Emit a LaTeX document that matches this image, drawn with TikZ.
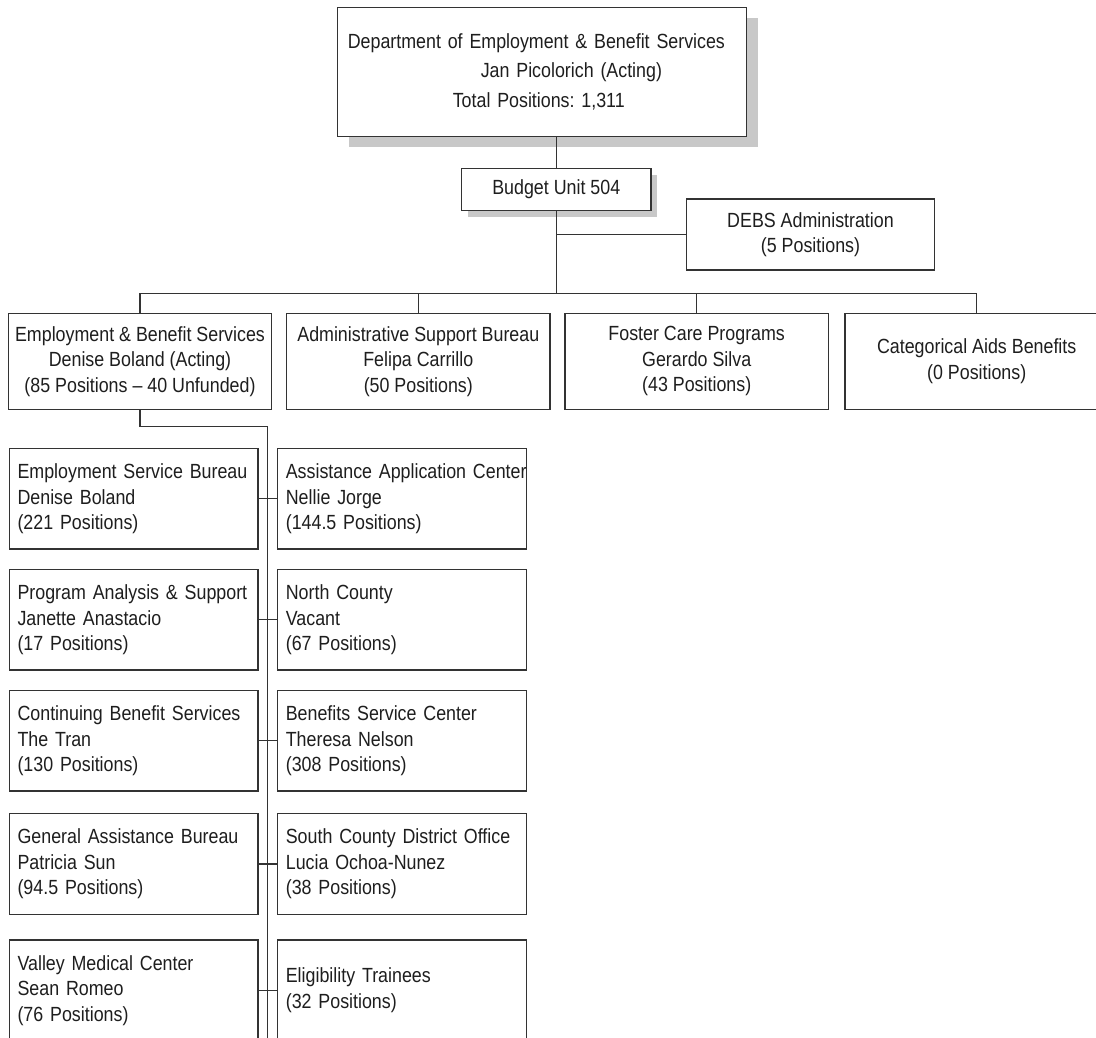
\documentclass[tikz,border=0pt]{standalone}
\usepackage{fontspec}
\setmainfont{Liberation Sans}[FakeStretch=0.87]
\usetikzlibrary{shadows}
\definecolor{DebsLine}{RGB}{51,51,51}
\definecolor{DebsText}{RGB}{30,30,30}
\definecolor{DebsShadow}{RGB}{200,200,200}
\tikzset{
  debs/box/.style={
    draw=DebsLine,
    line width=1.2pt,
    fill=white,
    text=DebsText,
    inner ysep=2pt,
    font=\fontsize{20.5}{25.5}\selectfont\frenchspacing
  },
  debs/head/.style={
    debs/box,
    general shadow={fill=DebsShadow, shadow xshift=#1pt, shadow yshift=-#1pt}
  },
  debs/unit/.style={
    debs/box,
    align=center,
    minimum width=263.3pt,
    minimum height=96pt
  },
  debs/office/.style={
    debs/box,
    align=left,
    text width=232.5pt,
    inner xsep=8pt,
    minimum height=100.5pt
  },
  debs/link/.style={draw=DebsLine, line width=1.2pt}
}

\begin{document}
\begin{tikzpicture}[x=1pt,y=-1pt]
  \path[use as bounding box, fill=white] (0,0) rectangle (1096,1038);
  \clip (0,0) rectangle (1096,1038);

  % department head and budget unit
  \node[debs/head=11, align=left, text width=389pt, inner xsep=10pt, minimum height=129pt,
        font=\fontsize{20.5}{29.5}\selectfont\frenchspacing] (dept) at (542.3,71.8)
    {Department of Employment \& Benefit Services\\
     \hspace*{133pt}Jan Picolorich (Acting)\\
     \hspace*{105pt}Total Positions: 1,311};
  \node[debs/head=6.5, minimum width=189.3pt, minimum height=42pt] (budget) at (556.3,189.3) {Budget Unit 504};
  \node[debs/box, align=center, minimum width=247.6pt, minimum height=71pt] (debs) at (810.5,234.5)
    {DEBS Administration\\(5 Positions)};

  % first level
  \node[debs/unit] (ebs) at (140,361.4) {Employment \& Benefit Services\\Denise Boland (Acting)\\(85 Positions -- 40 Unfunded)};
  \node[debs/unit] (asb) at (418.3,361.4) {Administrative Support Bureau\\Felipa Carrillo\\(50 Positions)};
  \node[debs/unit] (fcp) at (696.7,361.4) {Foster Care Programs\\Gerardo Silva\\(43 Positions)};
  \node[debs/unit] (cab) at (976.7,361.4) {Categorical Aids Benefits\\(0 Positions)};

  % bureaus and offices
  \node[debs/office] (esb) at (133.8,498.7) {Employment Service Bureau\\Denise Boland\\(221 Positions)};
  \node[debs/office] (pas) at (133.8,619.7) {\mbox{Program Analysis \& Support}\\Janette Anastacio\\(17 Positions)};
  \node[debs/office] (cbs) at (133.8,740.8) {Continuing Benefit Services\\The Tran\\(130 Positions)};
  \node[debs/office] (gab) at (133.8,864) {General Assistance Bureau\\Patricia Sun\\(94.5 Positions)};
  \node[debs/office] (vmc) at (133.8,990.3) {Valley Medical Center\\Sean Romeo\\(76 Positions)};

  \node[debs/office] (aac) at (402.1,498.7) {\mbox{Assistance Application Center}\\Nellie Jorge\\(144.5 Positions)};
  \node[debs/office] (nco) at (402.1,619.7) {North County\\Vacant\\(67 Positions)};
  \node[debs/office] (bsc) at (402.1,740.8) {Benefits Service Center\\Theresa Nelson\\(308 Positions)};
  \node[debs/office] (scd) at (402.1,864) {South County District Office\\Lucia Ochoa-Nunez\\(38 Positions)};
  \node[debs/office] (elt) at (402.1,990.3) {Eligibility Trainees\\(32 Positions)};

  \coordinate (bus) at (556.3,293.3);
  \coordinate (spine) at (267.7,1045);

  % connectors
  \draw[debs/link] (budget.north) -- (budget.north |- dept.south);
  \draw[debs/link] (budget.south) -- (budget.south |- bus);
  \draw[debs/link] (debs.west) -- (debs.west -| budget.south);
  \draw[debs/link] (ebs.north) -- (ebs.north |- bus) -- (cab.north |- bus) -- (cab.north);
  \draw[debs/link] (asb.north) -- (asb.north |- bus);
  \draw[debs/link] (fcp.north) -- (fcp.north |- bus);
  \draw[debs/link] (ebs.south) -- ++(0,16.3) -| (spine);
  \foreach \l/\r in {esb/aac, pas/nco, cbs/bsc, gab/scd, vmc/elt}
    \draw[debs/link] (\l.east) -- (\r.west);
\end{tikzpicture}
\end{document}
